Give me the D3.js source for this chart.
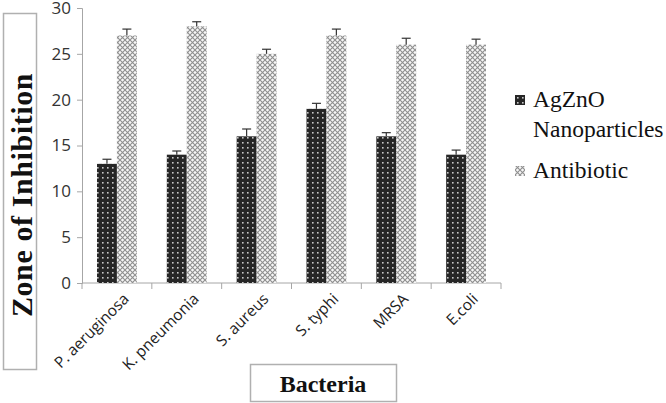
<!DOCTYPE html>
<html>
<head>
<meta charset="utf-8">
<script src="https://cdn.jsdelivr.net/npm/d3@7"></script>
<style>
  body { margin: 0; background: #fff; }
  svg { display: block; }
  .tick text { font-family: "Open Sans", sans-serif; fill: #333; }
  .serif { font-family: "Times New Roman", "Liberation Serif", serif; fill: #111; }
</style>
</head>
<body>
<svg id="chart" width="666" height="403"></svg>
<script>
var bacteria = ["P. aeruginosa", "K. pneumonia", "S. aureus", "S. typhi", "MRSA", "E.coli"];
var nanoValues = [13, 14, 16, 19, 16, 14];
var nanoErrors = [0.5, 0.4, 0.8, 0.6, 0.4, 0.5];
var antiValues = [27, 28, 25, 27, 26, 26];
var antiErrors = [0.7, 0.5, 0.5, 0.7, 0.7, 0.6];
var seriesNames = ["AgZnO Nanoparticles", "Antibiotic"];
var yTicks = [0, 5, 10, 15, 20, 25, 30];

var svg = d3.select("#chart");
var plotLeft = 82, plotRight = 501, plotTop = 8, plotBottom = 283;

// patterns
var defs = svg.append("defs");
var dark = defs.append("pattern").attr("id", "darkPat")
    .attr("patternUnits", "userSpaceOnUse").attr("width", 5).attr("height", 5);
dark.append("rect").attr("width", 5).attr("height", 5).attr("fill", "#262626");
dark.append("rect").attr("x", 2).attr("y", 2).attr("width", 1.6).attr("height", 1.6).attr("fill", "#c8c8c8");

var light = defs.append("pattern").attr("id", "lightPat")
    .attr("patternUnits", "userSpaceOnUse").attr("width", 5).attr("height", 5);
light.append("rect").attr("width", 5).attr("height", 5).attr("fill", "#f6f6f6");
light.append("path").attr("d", "M0,0L5,5M5,0L0,5")
    .attr("stroke", "#8f8f8f").attr("stroke-width", 1.1);

var x = d3.scaleBand().domain(bacteria).range([plotLeft, plotRight]).paddingInner(0).paddingOuter(0);
var x1 = d3.scaleBand().domain(seriesNames).range([15, x.bandwidth() - 15]);
var y = d3.scaleLinear().domain([0, 30]).range([plotBottom, plotTop]);

// y axis
var yAxis = svg.append("g").attr("transform", "translate(" + plotLeft + ",0)")
    .call(d3.axisLeft(y).tickValues(yTicks).tickSize(5).tickPadding(6));
yAxis.selectAll("text").style("font-size", "17px");
yAxis.selectAll("line, path").attr("stroke", "#a6a6a6");

// x axis
var xAxis = svg.append("g").attr("transform", "translate(0," + plotBottom + ")")
    .call(d3.axisBottom(x).tickSize(0).tickFormat(""));
xAxis.select("path").attr("stroke", "#a6a6a6").attr("d", "M" + plotLeft + ",0H" + plotRight);
xAxis.selectAll(".sep").data(d3.range(bacteria.length + 1)).enter().append("line")
    .attr("class", "sep")
    .attr("x1", function (i) { return plotLeft + i * x.bandwidth(); })
    .attr("x2", function (i) { return plotLeft + i * x.bandwidth(); })
    .attr("y1", 0).attr("y2", 6).attr("stroke", "#a6a6a6");

svg.append("g").selectAll("text").data(bacteria).enter().append("text")
    .attr("transform", function (d) {
      return "translate(" + (x(d) + x.bandwidth() / 2 + 13) + "," + (plotBottom + 17) + ") rotate(-45)";
    })
    .attr("text-anchor", "end")
    .style("font-family", "'Open Sans', sans-serif")
    .style("font-size", "15.5px")
    .style("fill", "#222")
    .text(function (d) { return d; });

// bars
var series = [
  { name: seriesNames[0], values: nanoValues, errors: nanoErrors, fill: "url(#darkPat)" },
  { name: seriesNames[1], values: antiValues, errors: antiErrors, fill: "url(#lightPat)" }
];

series.forEach(function (s) {
  var g = svg.append("g");
  g.selectAll("rect").data(bacteria).enter().append("rect")
      .attr("x", function (d) { return x(d) + x1(s.name); })
      .attr("y", function (d, i) { return y(s.values[i]); })
      .attr("width", x1.bandwidth())
      .attr("height", function (d, i) { return plotBottom - y(s.values[i]); })
      .attr("fill", s.fill);
  var eb = g.selectAll(".err").data(bacteria).enter().append("g").attr("class", "err");
  eb.append("line")
      .attr("x1", function (d) { return x(d) + x1(s.name) + x1.bandwidth() / 2; })
      .attr("x2", function (d) { return x(d) + x1(s.name) + x1.bandwidth() / 2; })
      .attr("y1", function (d, i) { return y(s.values[i]); })
      .attr("y2", function (d, i) { return y(s.values[i] + s.errors[i]); })
      .attr("stroke", "#333").attr("stroke-width", 1.2);
  eb.append("line")
      .attr("x1", function (d) { return x(d) + x1(s.name) + x1.bandwidth() / 2 - 4.5; })
      .attr("x2", function (d) { return x(d) + x1(s.name) + x1.bandwidth() / 2 + 4.5; })
      .attr("y1", function (d, i) { return y(s.values[i] + s.errors[i]); })
      .attr("y2", function (d, i) { return y(s.values[i] + s.errors[i]); })
      .attr("stroke", "#333").attr("stroke-width", 1.2);
});

// y title box
svg.append("rect").attr("x", 3.5).attr("y", 13.5).attr("width", 33).attr("height", 356)
    .attr("fill", "none").attr("stroke", "#b0b0b0").attr("stroke-width", 1.5);
svg.append("text").attr("class", "serif")
    .attr("transform", "translate(32,195) rotate(-90)")
    .attr("text-anchor", "middle")
    .style("font-weight", "bold")
    .style("font-size", "30px")
    .style("letter-spacing", "0.6px")
    .text("Zone of Inhibition");

// x title box
svg.append("rect").attr("x", 250.5).attr("y", 364.5).attr("width", 146).attr("height", 37)
    .attr("fill", "none").attr("stroke", "#b0b0b0").attr("stroke-width", 1.5);
svg.append("text").attr("class", "serif")
    .attr("x", 323).attr("y", 392)
    .attr("text-anchor", "middle")
    .style("font-weight", "bold")
    .style("font-size", "24px")
    .text("Bacteria");

// legend
var legend = svg.append("g").attr("transform", "translate(515,0)");
legend.append("rect").attr("x", 0).attr("y", 95).attr("width", 10).attr("height", 10).attr("fill", "url(#darkPat)");
legend.append("text").attr("class", "serif").attr("x", 18).attr("y", 107)
    .style("font-size", "23.5px").text("AgZnO");
legend.append("text").attr("class", "serif").attr("x", 18).attr("y", 137)
    .style("font-size", "23.5px").text("Nanoparticles");
legend.append("rect").attr("x", 0).attr("y", 166).attr("width", 10).attr("height", 10).attr("fill", "url(#lightPat)");
legend.append("text").attr("class", "serif").attr("x", 18).attr("y", 178)
    .style("font-size", "23.5px").text("Antibiotic");
</script>
</body>
</html>
